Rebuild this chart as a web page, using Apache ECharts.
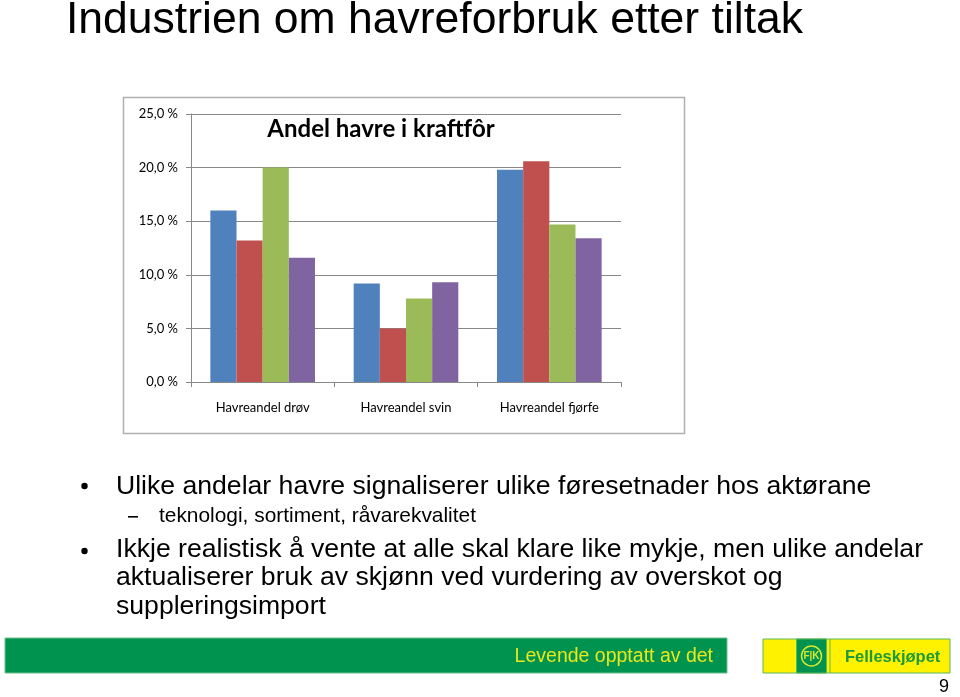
<!DOCTYPE html>
<html>
<head>
<meta charset="utf-8">
<script src="https://cdn.jsdelivr.net/npm/echarts@6/dist/echarts.min.js"></script>
<style>
html,body{margin:0;padding:0;background:#fff;}
#c{width:960px;height:697px;}
</style>
</head>
<body>
<div id="c"></div>
<script>
const categories = ['Havreandel drøv', 'Havreandel svin', 'Havreandel fjørfe'];
const series1 = [16.0, 9.2, 19.8];
const series2 = [13.2, 5.0, 20.6];
const series3 = [20.0, 7.8, 14.7];
const series4 = [11.6, 9.3, 13.4];
const seriesNames = ['Serie 1', 'Serie 2', 'Serie 3', 'Serie 4'];
const colors = ['#4F81BD', '#C0504D', '#9BBB59', '#8064A2'];
const yTicks = [0, 5, 10, 15, 20, 25];

const chartFont = 'Lato, "Open Sans", sans-serif';
const slideFont = '"Liberation Sans", Arial, sans-serif';

const chart = echarts.init(document.getElementById('c'), null, {renderer: 'canvas'});
const allSeries = [series1, series2, series3, series4];

chart.setOption({
  animation: false,
  backgroundColor: '#ffffff',
  title: {
    text: 'Andel havre i kraftfôr',
    left: 376, top: 112, textAlign: 'center',
    textStyle: {fontFamily: chartFont, fontWeight: 'bold', fontSize: 24, color: '#000'}
  },
  grid: {left: 191, right: 339, top: 114, bottom: 315, containLabel: false},
  xAxis: {
    type: 'category',
    data: categories,
    axisLine: {show: true, lineStyle: {color: '#888', width: 1}},
    axisTick: {show: true, alignWithLabel: false, length: 5, lineStyle: {color: '#888'}},
    axisLabel: {fontFamily: chartFont, fontSize: 13, color: '#000', margin: 19}
  },
  yAxis: {
    type: 'value',
    min: yTicks[0], max: yTicks[yTicks.length - 1], interval: 5,
    axisLine: {show: true, lineStyle: {color: '#888', width: 1}},
    axisTick: {show: true, length: 5, lineStyle: {color: '#888'}},
    splitLine: {show: true, lineStyle: {color: '#888', width: 1}},
    axisLabel: {
      fontFamily: chartFont, fontSize: 13, color: '#000', margin: 13,
      formatter: v => v.toFixed(1).replace('.', ',') + ' %'
    }
  },
  series: allSeries.map((d, i) => ({
    type: 'bar',
    name: seriesNames[i],
    data: d,
    barGap: '0%',
    barCategoryGap: '27%',
    itemStyle: {color: colors[i]}
  })),
  graphic: [
    {type: 'rect', z: -1, shape: {x: 123.5, y: 97.5, width: 561, height: 336}, style: {fill: 'none', stroke: '#b0b0b0', lineWidth: 1.5}},
    {type: 'text', left: 66, top: -2, style: {text: 'Industrien om havreforbruk etter tiltak', font: '44.5px ' + slideFont, fill: '#000'}},
    {type: 'circle', shape: {cx: 84.5, cy: 486, r: 3.2}, style: {fill: '#000'}},
    {type: 'text', left: 116, top: 473, style: {text: 'Ulike andelar havre signaliserer ulike føresetnader hos aktørane', font: '26.6px ' + slideFont, fill: '#000'}},
    {type: 'rect', shape: {x: 128, y: 516, width: 10, height: 1.6}, style: {fill: '#000'}},
    {type: 'text', left: 159, top: 506, style: {text: 'teknologi, sortiment, råvarekvalitet', font: '20.9px ' + slideFont, fill: '#000'}},
    {type: 'circle', shape: {cx: 84.5, cy: 551, r: 3.2}, style: {fill: '#000'}},
    {type: 'text', left: 116, top: 535.5, style: {text: 'Ikkje realistisk å vente at alle skal klare like mykje, men ulike andelar\naktualiserer bruk av skjønn ved vurdering av overskot og\nsuppleringsimport', font: '26.6px ' + slideFont, lineHeight: 28.4, fill: '#000'}},
    {type: 'rect', shape: {x: 5, y: 638, width: 722, height: 35}, style: {fill: '#00924F', stroke: '#6fc08f', lineWidth: 1}},
    {type: 'text', right: 247, top: 647, style: {text: 'Levende opptatt av det', font: '19.5px ' + slideFont, fill: '#E8E81A'}},
    {type: 'rect', shape: {x: 763, y: 639, width: 187, height: 34}, style: {fill: '#FFF200', stroke: '#5cb85c', lineWidth: 1}},
    {type: 'rect', shape: {x: 796.5, y: 639, width: 30, height: 34}, style: {fill: '#00924F', stroke: '#5cb85c', lineWidth: 1}},
    {type: 'line', shape: {x1: 830, y1: 639, x2: 830, y2: 673}, style: {stroke: '#5cb85c', lineWidth: 1}},
    {type: 'circle', shape: {cx: 811.5, cy: 656, r: 10}, style: {fill: '#00924F', stroke: '#D8E830', lineWidth: 1.5}},
    {type: 'text', x: 811.5, y: 656, style: {text: 'F|K', align: 'center', verticalAlign: 'middle', font: 'bold 10px ' + slideFont, fill: '#D8E830'}},
    {type: 'text', left: 845, top: 649, style: {text: 'Felleskjøpet', font: 'bold 16.5px ' + slideFont, fill: '#1E9A3C'}},
    {type: 'text', left: 939, top: 678, style: {text: '9', font: '18px ' + slideFont, fill: '#000'}}
  ]
});
</script>
</body>
</html>
